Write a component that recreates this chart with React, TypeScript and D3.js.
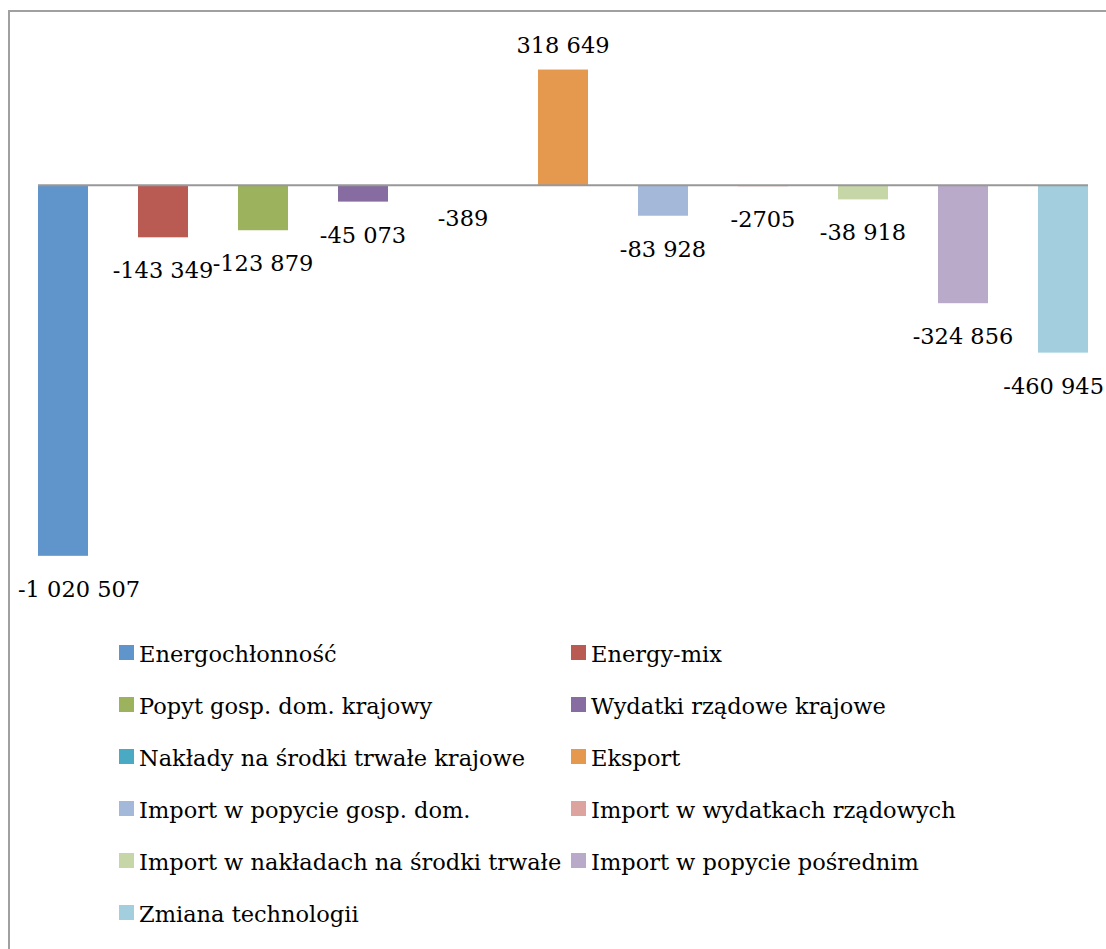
import React, { useEffect, useRef } from "react";
import * as d3 from "d3";

// Decomposition of the change in emissions into its contributing factors
const categories: string[] = [
  "Energochłonność",
  "Energy-mix",
  "Popyt gosp. dom. krajowy",
  "Wydatki rządowe krajowe",
  "Nakłady na środki trwałe krajowe",
  "Eksport",
  "Import w popycie gosp. dom.",
  "Import w wydatkach rządowych",
  "Import w nakładach na środki trwałe",
  "Import w popycie pośrednim",
  "Zmiana technologii",
];

const values: number[] = [
  -1020507, -143349, -123879, -45073, -389, 318649, -83928, -2705, -38918,
  -324856, -460945,
];

// Labels as printed next to each bar
const valueLabels: string[] = [
  "-1 020 507",
  "-143 349",
  "-123 879",
  "-45 073",
  "-389",
  "318 649",
  "-83 928",
  "-2705",
  "-38 918",
  "-324 856",
  "-460 945",
];

const colors: string[] = [
  "#5F95CA",
  "#B95A53",
  "#9CB25D",
  "#866CA0",
  "#4BAAC3",
  "#E5994E",
  "#A4B8DA",
  "#DCA39F",
  "#C6D6A6",
  "#BAAACA",
  "#A2CEDD",
];

const yDomain: [number, number] = [-1200000, 400000];

const W = 1106;
const H = 949;
const FONT = "DejaVu Serif, serif";
const FS = 22.5;

export default function App() {
  const labelsRef = useRef<SVGGElement>(null);

  const x = d3
    .scaleBand<string>()
    .domain(categories)
    .range([38, 1088])
    .paddingInner(0.5)
    .paddingOuter(0);

  const y = d3.scaleLinear().domain(yDomain).range([621, 40]);
  const y0 = y(0);

  // Keep value labels inside the chart area
  useEffect(() => {
    if (!labelsRef.current) return;
    const minX = 18;
    const maxX = W - 2;
    d3.select(labelsRef.current)
      .selectAll<SVGTextElement, unknown>("text")
      .each(function () {
        const cx = Number(this.getAttribute("data-cx"));
        const w = this.getComputedTextLength();
        let nx = cx;
        if (cx - w / 2 < minX) nx = minX + w / 2;
        if (cx + w / 2 > maxX) nx = maxX - w / 2;
        this.setAttribute("x", String(nx));
      });
  }, []);

  const legendCols = [119, 571];
  const legendRow0 = 645;
  const legendStep = 52;

  return (
    <svg
      width={W}
      height={H}
      style={{ position: "absolute", left: 0, top: 0, background: "#fff" }}
      fontFamily={FONT}
    >
      <rect x={9} y={11} width={1200} height={1200} fill="#fff" stroke="#A0A0A0" strokeWidth={2} />

      {categories.map((c, i) => {
        const v = values[i];
        const top = Math.min(y(v), y0);
        const h = Math.abs(y(v) - y0);
        return (
          <rect key={c} x={x(c)} y={top} width={x.bandwidth()} height={h} fill={colors[i]} />
        );
      })}

      <line x1={38} x2={1088} y1={y0} y2={y0} stroke="#989898" strokeWidth={2} />

      <g ref={labelsRef}>
        {categories.map((c, i) => {
          const v = values[i];
          const cx = (x(c) as number) + x.bandwidth() / 2;
          const ty = v >= 0 ? y(v) - 17 : y(v) + 41;
          return (
            <text
              key={c}
              x={cx}
              data-cx={cx}
              y={ty}
              textAnchor="middle"
              fontSize={FS}
              fill="#000"
            >
              {valueLabels[i]}
            </text>
          );
        })}
      </g>

      {categories.map((c, i) => {
        const col = i % 2;
        const row = Math.floor(i / 2);
        const lx = legendCols[col];
        const ly = legendRow0 + row * legendStep;
        return (
          <g key={c}>
            <rect x={lx} y={ly} width={15} height={15} fill={colors[i]} />
            <text x={lx + 20} y={ly + 17} fontSize={FS} fill="#000">
              {c}
            </text>
          </g>
        );
      })}
    </svg>
  );
}
